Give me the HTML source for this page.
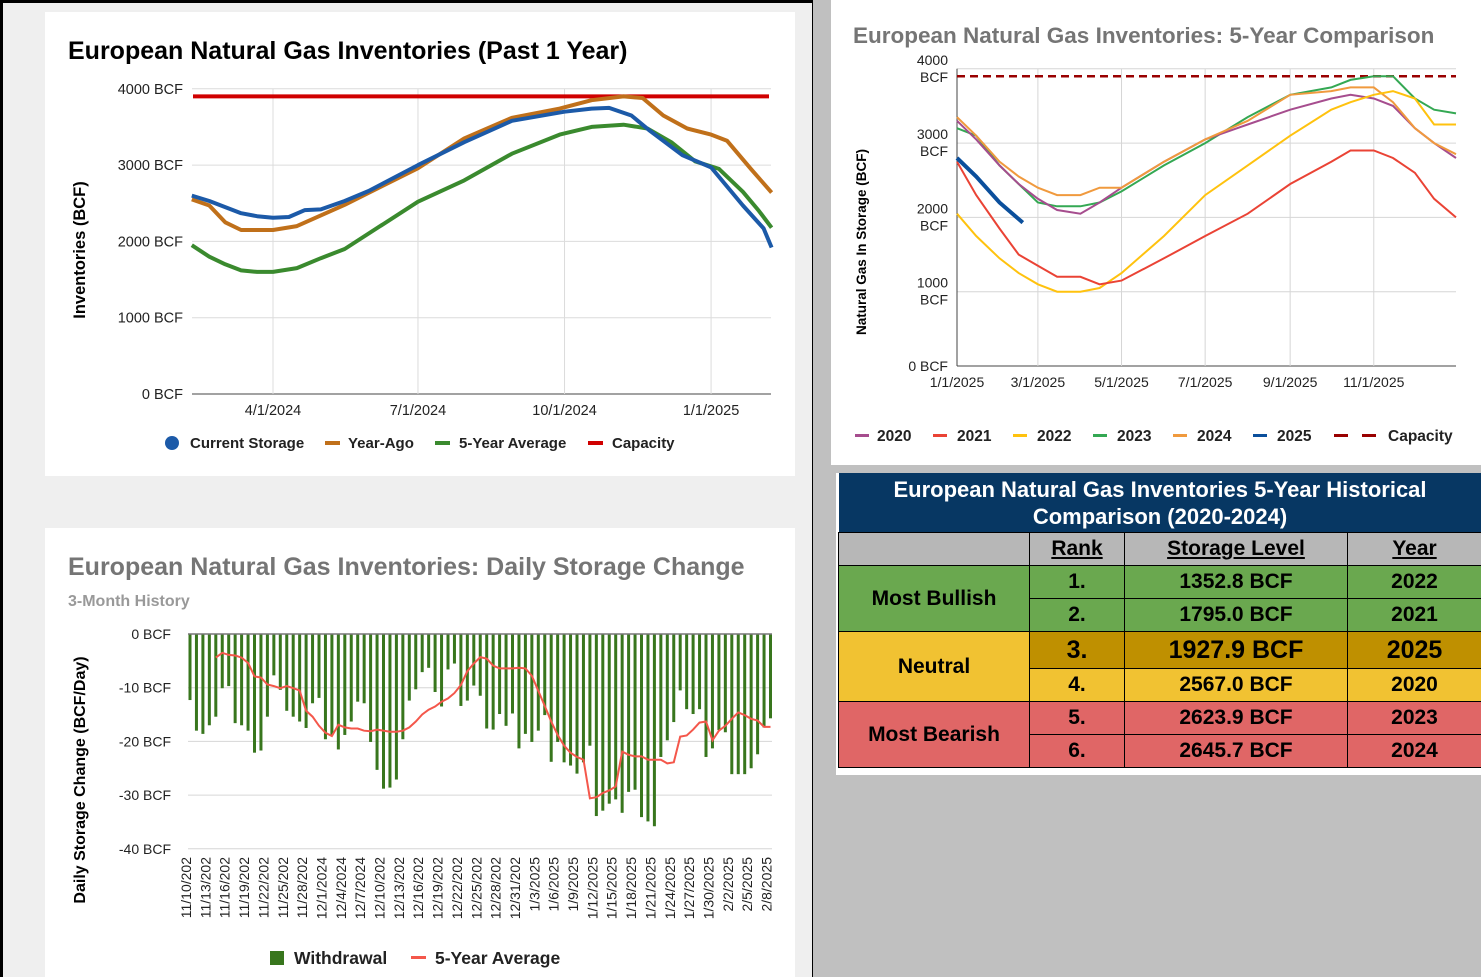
<!DOCTYPE html>
<html><head><meta charset="utf-8">
<style>
body{margin:0;width:1481px;height:977px;overflow:hidden;background:#c0c0c0;font-family:"Liberation Sans",Arial,sans-serif;position:relative}
svg text{font-family:"Liberation Sans",Arial,sans-serif}
#tbl{position:absolute;left:838px;top:473px;width:643px;border-collapse:collapse;font-weight:bold;font-family:"Liberation Sans",sans-serif;table-layout:fixed}
#tbl td{border:1px solid #000;text-align:center;padding:0;font-size:21px;color:#000}
#tbl .hd{background:#073763;color:#fff;font-size:22px;line-height:27px;height:59px;border:none}
#tbl .gh td{background:#b7b7b7;text-decoration:underline;height:32px}
.g{background:#6aa84f}.y{background:#f1c232}.yd{background:#bf9000}.r{background:#e06666}
</style></head><body>
<svg id="s" width="1481" height="977" style="position:absolute;left:0;top:0">
<rect x="0" y="0" width="815" height="977" fill="#000"/>
<rect x="3" y="3" width="809" height="974" fill="#efefef"/>
<rect x="813" y="0" width="18" height="977" fill="#c0c0c0"/>
<rect x="831" y="0" width="650" height="465" fill="#fff"/>
<rect x="836" y="473" width="645" height="302" fill="#fff"/>
<rect x="45" y="12" width="750" height="464" fill="#fff"/>
<rect x="45" y="528" width="750" height="449" fill="#fff"/>
<g id="c1"></g><g id="c2"></g><g id="c3"></g>
</svg>
<table id="tbl">
<colgroup><col style="width:191px"><col style="width:95px"><col style="width:223px"><col style="width:134px"></colgroup>
<tr><td colspan="4" class="hd">European Natural Gas Inventories 5-Year Historical Comparison (2020-2024)</td></tr>
<tr class="gh"><td style="text-decoration:none"></td><td>Rank</td><td>Storage Level</td><td>Year</td></tr>
<tr style="height:33px"><td rowspan="2" class="g">Most Bullish</td><td class="g">1.</td><td class="g">1352.8 BCF</td><td class="g">2022</td></tr>
<tr style="height:33px"><td class="g">2.</td><td class="g">1795.0 BCF</td><td class="g">2021</td></tr>
<tr style="height:37px"><td rowspan="2" class="y">Neutral</td><td class="yd" style="font-size:25px">3.</td><td class="yd" style="font-size:25px">1927.9 BCF</td><td class="yd" style="font-size:25px">2025</td></tr>
<tr style="height:33px"><td class="y">4.</td><td class="y">2567.0 BCF</td><td class="y">2020</td></tr>
<tr style="height:33px"><td rowspan="2" class="r">Most Bearish</td><td class="r">5.</td><td class="r">2623.9 BCF</td><td class="r">2023</td></tr>
<tr style="height:33px"><td class="r">6.</td><td class="r">2645.7 BCF</td><td class="r">2024</td></tr>
</table>
<script>
const NS="http://www.w3.org/2000/svg";
function mk(p,t,a,txt){const e=document.createElementNS(NS,t);for(const k in a)e.setAttribute(k,a[k]);if(txt!=null)e.textContent=txt;p.appendChild(e);return e;}
function path(pts){return pts.map((p,i)=>(i?'L':'M')+p[0].toFixed(1)+','+p[1].toFixed(1)).join('');}

/* ---------- Chart 1: Past 1 year ---------- */
const c1Ticks=[0,1000,2000,3000,4000];
const c1DateLabels=["4/1/2024","7/1/2024","10/1/2024","1/1/2025"];
const c1DateDays=[0,91,183,275];
const curDays=[-51,-40,-30,-20,-10,0,10,20,30,45,60,91,120,150,183,200,211,225,236,257,275,295,308,313];
const curVals=[2600,2530,2450,2370,2330,2310,2320,2410,2420,2530,2660,3000,3300,3580,3700,3740,3750,3650,3460,3130,2970,2470,2170,1920];
const agoDays=[-51,-40,-30,-20,0,15,45,91,120,150,180,200,220,232,245,260,275,285,300,313];
const agoVals=[2550,2470,2250,2150,2150,2200,2480,2960,3350,3620,3740,3850,3900,3880,3650,3480,3400,3320,2950,2640];
const avgDays=[-51,-40,-30,-20,-10,0,15,30,45,91,120,150,180,200,220,235,250,265,280,295,305,313];
const avgVals=[1950,1800,1700,1620,1600,1600,1650,1780,1900,2520,2800,3150,3400,3500,3530,3480,3300,3050,2950,2650,2400,2180];
const capacity1=3900;
(function(){
 const g=document.getElementById('c1');
 const X=d=>273+d*1.593, Y=v=>394-v*0.0763;
 mk(g,'text',{x:68,y:59,'font-size':25,'font-weight':'bold',fill:'#000',},'European Natural Gas Inventories (Past 1 Year)');
 c1Ticks.forEach(t=>{
  const l=mk(g,'line',{x1:192,x2:771,y1:Y(t),y2:Y(t),stroke:t?'#dcdcdc':'#444','stroke-width':1});
  
  const tx=mk(g,'text',{x:183,y:Y(t)+5,'font-size':14.5,'text-anchor':'end',fill:'#222'},t+' BCF');
  
 });
 c1DateDays.forEach((d,i)=>{
  const l=mk(g,'line',{x1:X(d),x2:X(d),y1:89,y2:394,stroke:'#dcdcdc'});
  
  const tx=mk(g,'text',{x:X(d),y:415,'font-size':14.5,'text-anchor':'middle',fill:'#222'},c1DateLabels[i]);
  
 });
 const yt=mk(g,'text',{transform:'translate(85,250) rotate(-90)','font-size':16.5,'font-weight':'bold','text-anchor':'middle'},'Inventories (BCF)');
 
 const cap=mk(g,'line',{x1:193,x2:769,y1:Y(capacity1),y2:Y(capacity1),stroke:'#d00000','stroke-width':4});
 
 [[avgDays,avgVals,'#3a8a2e','five-year-average-line'],[agoDays,agoVals,'#c0701a','year-ago-line'],[curDays,curVals,'#1c5aa8','current-storage-line']].forEach(s=>{
  const p=mk(g,'path',{d:path(s[0].map((d,i)=>[X(d),Y(s[1][i])])),fill:'none',stroke:s[2],'stroke-width':4,'stroke-linejoin':'round'});
  
 });
 const lg=[['Current Storage',172,190,'#1c5aa8',1],['Year-Ago',325,348,'#c0701a',0],['5-Year Average',435,459,'#3a8a2e',0],['Capacity',588,612,'#d00000',0]];
 lg.forEach(e=>{
  if(e[4]) mk(g,'circle',{cx:e[1],cy:443,r:7,fill:e[3]});
  else mk(g,'rect',{x:e[1],y:441,width:15,height:4,fill:e[3]});
  const t=mk(g,'text',{x:e[2],y:448,'font-size':15,'font-weight':'bold',fill:'#222'},e[0]);
  
 });
})();

/* ---------- Chart 2: Daily storage change ---------- */
const c2Ticks=[0,-10,-20,-30,-40];
const withdrawal=[-12.3,-18,-18.6,-17,-15.4,-10.1,-9.7,-16.6,-17,-18,-22.1,-21.7,-15.4,-7.7,-10.4,-14.3,-15.4,-16.3,-17.5,-12.9,-11.9,-19.6,-18.9,-21.5,-18.8,-16.3,-12.6,-12.9,-20.1,-25.3,-28.8,-28.6,-27.1,-19.6,-12.4,-10.3,-7.1,-6.3,-10.8,-13.5,-6.6,-5.5,-13.4,-12.4,-9.6,-11.5,-17.6,-17.8,-14.9,-17.1,-14.8,-21.3,-18.6,-20.1,-18,-15.1,-23.8,-20.1,-23.9,-24.5,-26,-23.9,-20.8,-33.9,-32.9,-31.6,-30.8,-33.3,-29.4,-29,-34.1,-34.9,-35.8,-22.9,-19.8,-16.4,-10.5,-14,-14.9,-14,-22.9,-21.3,-17.9,-18.3,-26.1,-26.1,-26.1,-25,-22.4,-17.4,-15.7];
const fiveYearAvg=[null,null,null,null,-4.4,-3.5,-3.9,-4,-4.4,-5.4,-7.9,-8.1,-9.4,-9.7,-10.1,-9.7,-10.1,-10.5,-14.3,-15.4,-17.1,-18.4,-19,-16.9,-17.4,-17.6,-17.6,-18,-18.1,-17.8,-18,-18.2,-18.2,-18,-17.4,-16.3,-15,-14.1,-13.5,-12.6,-12,-11,-9.5,-6.9,-5.5,-4.3,-4.6,-5.9,-6.4,-6.4,-6.4,-6.3,-6.4,-7.8,-10.6,-13.4,-16.3,-18.8,-20.8,-22.1,-22.9,-23.4,-30.6,-30.4,-29.6,-29.1,-28.4,-21.9,-22.5,-22.8,-22.8,-23.4,-23.4,-23.4,-24.1,-23.9,-19.1,-18.9,-17.8,-16.5,-16.3,-19.8,-18,-17.1,-15.8,-14.6,-15.1,-15.8,-16.1,-17.3,-17.3];
const c2Labels=["11/10/202","11/13/202","11/16/202","11/19/202","11/22/202","11/25/202","11/28/202","12/1/2024","12/4/2024","12/7/2024","12/10/202","12/13/202","12/16/202","12/19/202","12/22/202","12/25/202","12/28/202","12/31/202","1/3/2025","1/6/2025","1/9/2025","1/12/2025","1/15/2025","1/18/2025","1/21/2025","1/24/2025","1/27/2025","1/30/2025","2/2/2025","2/5/2025","2/8/2025"];
(function(){
 const g=document.getElementById('c2');
 const X=i=>190+i*6.45, Y=v=>634-v*5.37;
 mk(g,'text',{x:68,y:575,'font-size':25,'font-weight':'bold',fill:'#757575',},'European Natural Gas Inventories: Daily Storage Change');
 mk(g,'text',{x:68,y:606,'font-size':16,'font-weight':'bold',fill:'#999',},'3-Month History');
 c2Ticks.forEach(t=>{
  if(t) {const l=mk(g,'line',{x1:188,x2:772,y1:Y(t),y2:Y(t),stroke:'#d6d6d6'});}
  const tx=mk(g,'text',{x:171,y:Y(t)+5,'font-size':14,'text-anchor':'end',fill:'#222'},t+' BCF');
  
 });
 withdrawal.forEach((v,i)=>{
  const r=mk(g,'rect',{x:X(i)-1.5,y:Y(0),width:3,height:Y(v)-Y(0),fill:'#38761d'});
  
 });
 mk(g,'line',{x1:188,x2:772,y1:Y(0),y2:Y(0),stroke:'#777','stroke-width':1.5});
 const pts=[];fiveYearAvg.forEach((v,i)=>{if(v!=null)pts.push([X(i),Y(v)]);});
 const ln=mk(g,'path',{d:path(pts),fill:'none',stroke:'#f4574b','stroke-width':2});
 
 c2Labels.forEach((s,k)=>{
  const x=X(k*3)-3;
  const t=mk(g,'text',{transform:`translate(${x+4},857) rotate(-90)`,'font-size':14,'text-anchor':'end',fill:'#222'},s);
  
 });
 const yt=mk(g,'text',{transform:'translate(85,780) rotate(-90)','font-size':16,'font-weight':'bold','text-anchor':'middle'},'Daily Storage Change (BCF/Day)');
 
 mk(g,'rect',{x:270,y:951,width:14,height:14,fill:'#38761d'});
 let t=mk(g,'text',{x:294,y:964,'font-size':17.5,'font-weight':'bold',fill:'#222'},'Withdrawal');
 
 mk(g,'rect',{x:411,y:956,width:15,height:3,fill:'#f4574b'});
 t=mk(g,'text',{x:435,y:964,'font-size':17.5,'font-weight':'bold',fill:'#222'},'5-Year Average');
 
})();

/* ---------- Chart 3: 5-year comparison ---------- */
const c3Ticks=[0,1000,2000,3000,4000];
const c3DateLabels=["1/1/2025","3/1/2025","5/1/2025","7/1/2025","9/1/2025","11/1/2025"];
const c3DateDays=[0,59,120,181,243,304];
const dayGrid=[0,14,31,45,59,73,90,104,120,151,181,212,243,273,287,304,318,334,348,364];
const s2020=[3300,3050,2700,2450,2250,2100,2050,2200,2400,2750,3050,3250,3450,3600,3650,3600,3500,3200,3000,2800];
const s2021=[2750,2300,1850,1500,1350,1200,1200,1100,1150,1450,1750,2050,2450,2750,2900,2900,2800,2600,2250,2000];
const s2022=[2050,1750,1450,1250,1100,1000,1000,1050,1250,1750,2300,2700,3100,3450,3550,3650,3700,3600,3250,3250];
const s2023=[3200,3100,2700,2450,2200,2150,2150,2200,2350,2700,3000,3350,3650,3750,3850,3900,3900,3600,3450,3400];
const s2024=[3350,3100,2750,2550,2400,2300,2300,2400,2400,2750,3050,3300,3650,3700,3750,3750,3550,3200,3000,2850];
const s2025Days=[0,14,31,48];
const s2025=[2800,2550,2200,1930];
const capacity3=3900;
(function(){
 const g=document.getElementById('c3');
 const X=d=>957+d*1.371, Y=v=>366-v*0.0743;
 mk(g,'text',{x:853,y:43,'font-size':22.5,'font-weight':'bold',fill:'#757575',},'European Natural Gas Inventories: 5-Year Comparison');
 c3Ticks.forEach(t=>{
  const l=mk(g,'line',{x1:957,x2:1456,y1:Y(t),y2:Y(t),stroke:t?'#d6d6d6':'#444'});
  
  if(t){
   let a=mk(g,'text',{x:948,y:Y(t)-4,'font-size':14,'text-anchor':'end',fill:'#222'},String(t));
   
   mk(g,'text',{x:948,y:Y(t)+13,'font-size':14,'text-anchor':'end',fill:'#222'},'BCF');
  } else {
   let a=mk(g,'text',{x:948,y:Y(t)+5,'font-size':14,'text-anchor':'end',fill:'#222'},'0 BCF');
   
  }
 });
 c3DateDays.forEach((d,i)=>{
  if(d){const l=mk(g,'line',{x1:X(d),x2:X(d),y1:Y(4000),y2:Y(0),stroke:'#d6d6d6'});}
  const t=mk(g,'text',{x:X(d),y:387,'font-size':14,'text-anchor':'middle',fill:'#222'},c3DateLabels[i]);
  
 });
 mk(g,'line',{x1:957,x2:957,y1:Y(4000),y2:Y(0),stroke:'#444'});
 const yt=mk(g,'text',{transform:'translate(866,242) rotate(-90)','font-size':13.5,'font-weight':'bold','text-anchor':'middle'},'Natural Gas In Storage (BCF)');
 
 const cap=mk(g,'line',{x1:957,x2:1456,y1:Y(capacity3),y2:Y(capacity3),stroke:'#990000','stroke-width':2.5,'stroke-dasharray':'8,5'});
 
 const ser=[[s2023,'#34a853','2023'],[s2020,'#a64d8e','2020'],[s2024,'#f09a3e','2024'],[s2022,'#ffc20e','2022'],[s2021,'#ea4335','2021']];
 ser.forEach(s=>{
  const p=mk(g,'path',{d:path(dayGrid.map((d,i)=>[X(d),Y(s[0][i])])),fill:'none',stroke:s[1],'stroke-width':2});
  
 });
 const p=mk(g,'path',{d:path(s2025Days.map((d,i)=>[X(d),Y(s2025[i])])),fill:'none',stroke:'#0b4f9c','stroke-width':4});
 
 const lg=[['2020',855,877,'#a64d8e'],['2021',933,957,'#ea4335'],['2022',1013,1037,'#ffc20e'],['2023',1093,1117,'#34a853'],['2024',1173,1197,'#f09a3e'],['2025',1253,1277,'#0b4f9c']];
 lg.forEach(e=>{
  mk(g,'rect',{x:e[1],y:434,width:14,height:3,fill:e[3]});
  const t=mk(g,'text',{x:e[2],y:441,'font-size':15.5,'font-weight':'bold',fill:'#222'},e[0]);
  
 });
 mk(g,'rect',{x:1334,y:434,width:14,height:3,fill:'#990000'});
 mk(g,'rect',{x:1362,y:434,width:14,height:3,fill:'#990000'});
 const t=mk(g,'text',{x:1388,y:441,'font-size':15.5,'font-weight':'bold',fill:'#222'},'Capacity');
 
})();
</script>
</body></html>
